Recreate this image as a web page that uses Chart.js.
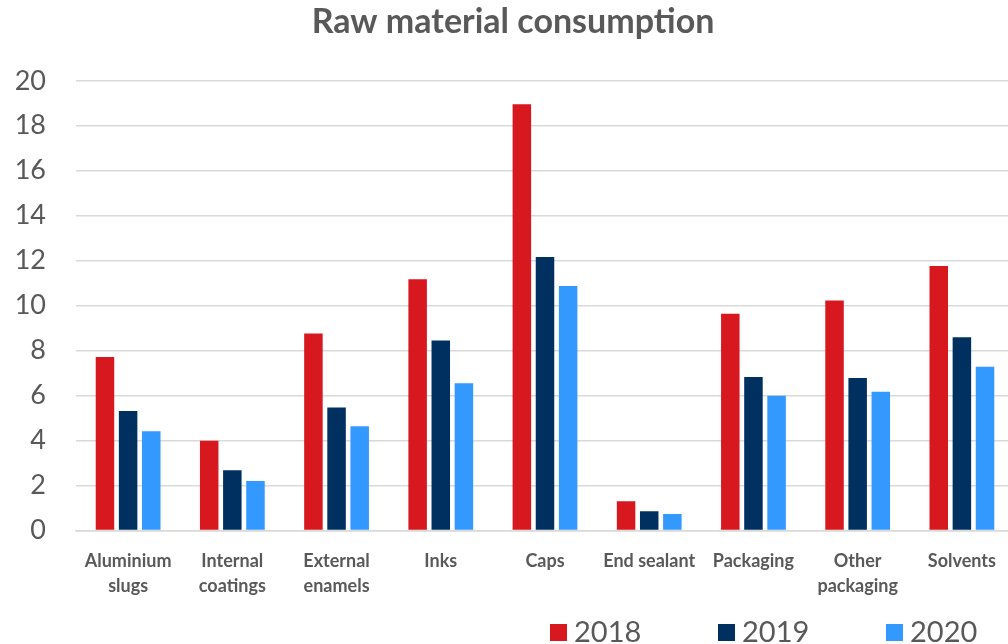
<!DOCTYPE html>
<html lang="en">
<head>
    <meta charset="UTF-8">
    <script src="https://cdn.jsdelivr.net/npm/chart.js@4/dist/chart.umd.min.js"></script>
    <title>Raw material consumption</title>
    <style>
        body { margin: 0; background: #fff; font-family: Lato, sans-serif; }
        .wrapper { position: relative; width: 1008px; height: 644px; overflow: hidden; }
        #legend { position: absolute; left: 550px; top: 613px; display: flex; }
        #legend .item { width: 168px; display: flex; align-items: center; font-size: 29px; color: #595959; }
        #legend .box { width: 17px; height: 17px; margin-right: 7px; margin-top: 3px; }
    </style>
</head>
<body>
    <div class="wrapper">
        <canvas id="canvas" width="1014" height="644"></canvas>
        <div id="legend"></div>
    </div>
<script>
// data
const categories = [
    ['Aluminium', 'slugs'], ['Internal', 'coatings'], ['External', 'enamels'],
    'Inks', 'Caps', 'End sealant', 'Packaging', ['Other', 'packaging'], 'Solvents'
];
const years = ['2018', '2019', '2020'];
const values2018 = [7.72, 4.0, 8.76, 11.18, 18.96, 1.30, 9.64, 10.23, 11.77];
const values2019 = [5.32, 2.68, 5.47, 8.45, 12.16, 0.86, 6.83, 6.79, 8.60];
const values2020 = [4.42, 2.21, 4.64, 6.55, 10.88, 0.74, 6.00, 6.17, 7.28];
const yTicks = [0, 2, 4, 6, 8, 10, 12, 14, 16, 18, 20];

const colors = ['#D7191F', '#00305F', '#3399FF'];
const grey = '#595959';

window.onload = () => {
    const series = [values2018, values2019, values2020];

    let ctx = document.getElementById('canvas')
    let chart = new Chart(ctx, {
        type: 'bar',
        data: {
            labels: categories,
            datasets: series.map((vals, i) => ({
                label: years[i],
                data: vals,
                backgroundColor: colors[i],
                borderWidth: 0,
                categoryPercentage: 0.666,
                barPercentage: 0.8
            }))
        },
        options: {
            responsive: false,
            animation: false,
            layout: { padding: { left: 12, right: 0, top: 0, bottom: 35 } },
            plugins: {
                legend: { display: false },
                tooltip: { enabled: false },
                title: {
                    display: true,
                    text: 'Raw material consumption',
                    color: grey,
                    font: { family: 'Lato', size: 34, weight: 'bold' },
                    padding: { top: 2, bottom: 38 }
                }
            },
            scales: {
                x: {
                    grid: { display: false },
                    border: { color: '#d9d9d9', width: 1.5 },
                    ticks: {
                        color: grey,
                        autoSkip: false,
                        maxRotation: 0,
                        padding: 10,
                        font: { family: 'Lato', size: 18, weight: 'bold', lineHeight: 1.4 }
                    }
                },
                y: {
                    min: 0,
                    max: 20,
                    afterBuildTicks: axis => { axis.ticks = yTicks.map(v => ({ value: v })) },
                    afterFit: axis => { axis.width = 64 },
                    grid: { color: '#d9d9d9', lineWidth: 1.5, drawTicks: false },
                    border: { display: false },
                    ticks: {
                        color: grey,
                        padding: 30,
                        font: { family: 'Lato', size: 27 }
                    }
                }
            }
        }
    })

    // legend
    const legend = document.getElementById('legend')
    years.forEach((y, i) => {
        const item = document.createElement('div')
        item.className = 'item'
        item.innerHTML = '<span class="box" style="background:' + colors[i] + '"></span><span>' + y + '</span>'
        legend.appendChild(item)
    })
}
</script>
</body>
</html>
